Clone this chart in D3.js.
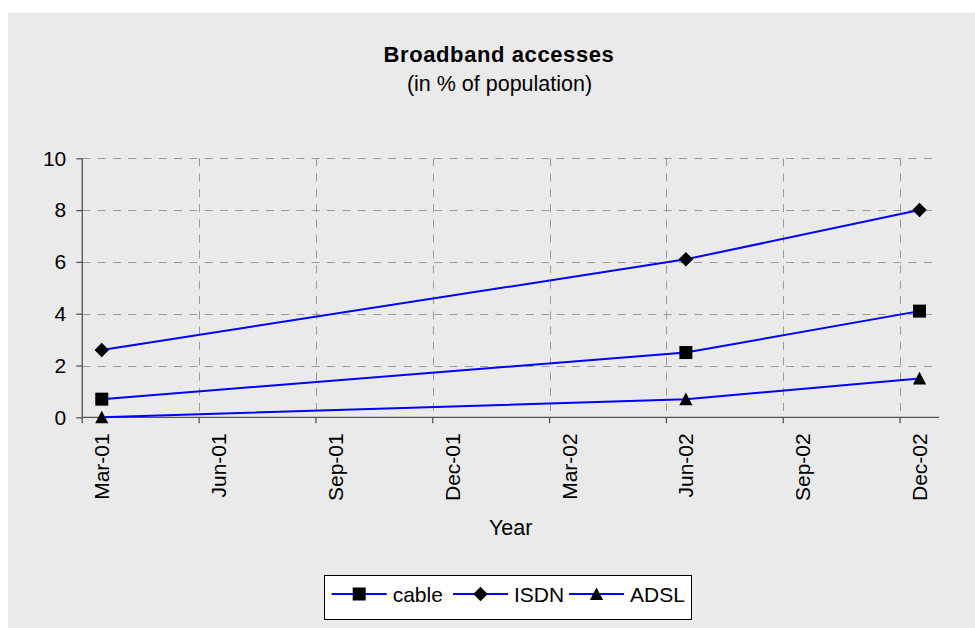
<!DOCTYPE html>
<html>
<head>
<meta charset="utf-8">
<script src="https://cdn.jsdelivr.net/npm/d3@7"></script>
<style>
  html, body { margin: 0; padding: 0; background: #ffffff; }
  svg { display: block; }
  text { font-family: "Liberation Sans", Arial, sans-serif; fill: #000; }
</style>
</head>
<body>
<svg id="chart" width="975" height="628"></svg>
<script>
// ---- data ----
const title = "Broadband accesses";
const subtitle = "(in % of population)";
const xTitle = "Year";
const dates = ["Mar-01", "Jun-02", "Dec-02"];
const cable = [0.7, 2.5, 4.1];
const isdn = [2.6, 6.1, 8.0];
const adsl = [0.0, 0.7, 1.5];
const seriesNames = ["cable", "ISDN", "ADSL"];
const xTickLabels = ["Mar-01", "Jun-01", "Sep-01", "Dec-01", "Mar-02", "Jun-02", "Sep-02", "Dec-02"];
const yTicks = [0, 2, 4, 6, 8, 10];

// ---- layout ----
const W = 975, H = 628;
const plot = { left: 82.3, right: 939, top: 158.3, bottom: 417.3 };
const svg = d3.select("#chart");
const fmt = d3.timeFormat("%b-%y");
const monthDates = d3.timeMonth.range(new Date(2001, 2, 1), new Date(2003, 0, 1));
const months = monthDates.map(fmt);

const x = d3.scaleBand().domain(months).range([plot.left, plot.right]).padding(0);
const y = d3.scaleLinear().domain([0, 10]).range([plot.bottom, plot.top]);
const xc = d => x(d) + x.bandwidth() / 2;

// background
svg.append("rect").attr("x", 8).attr("y", 13).attr("width", W - 8).attr("height", H - 13)
  .attr("fill", "#eaeaea");

// title
svg.append("text").attr("x", 499).attr("y", 62).attr("text-anchor", "middle")
  .attr("font-size", 22).attr("font-weight", "bold").attr("letter-spacing", 0.6).text(title);
svg.append("text").attr("x", 499.5).attr("y", 91).attr("text-anchor", "middle")
  .attr("font-size", 21.5).text(subtitle);

// gridlines
const grid = svg.append("g").attr("stroke", "#9a9a9a").attr("stroke-width", 1)
  .attr("stroke-dasharray", "8,7.3").attr("fill", "none");
yTicks.filter(v => v > 0).forEach(v => {
  grid.append("line").attr("x1", plot.left).attr("x2", plot.right)
    .attr("y1", Math.round(y(v)) + 0.5).attr("y2", Math.round(y(v)) + 0.5);
});
xTickLabels.slice(1).forEach(m => {
  const px = Math.round(x(m)) + 0.5;
  grid.append("line").attr("x1", px).attr("x2", px).attr("y1", plot.top).attr("y2", plot.bottom);
});

// y axis
const yAxis = d3.axisLeft(y).tickValues(yTicks).tickSize(6).tickPadding(10);
const gy = svg.append("g").attr("transform", `translate(${plot.left},0)`).call(yAxis);
gy.select(".domain").attr("stroke", "#555").attr("stroke-width", 1.3)
  .attr("d", `M0,${plot.top}V${plot.bottom}`);
gy.selectAll(".tick line").attr("stroke", "#555").attr("stroke-width", 1.3);
gy.selectAll(".tick text").attr("font-size", 21).attr("font-family", "Liberation Sans, Arial, sans-serif")
  .attr("fill", "#000");

// x axis
const xAxis = d3.axisBottom(x).tickValues(xTickLabels).tickSize(0).tickPadding(0);
const gx = svg.append("g").attr("transform", `translate(0,${plot.bottom})`).call(xAxis);
gx.select(".domain").attr("stroke", "#555").attr("stroke-width", 1.3)
  .attr("d", `M${plot.left},0H${plot.right}`);
gx.selectAll(".tick line").remove();
gx.selectAll(".tick text")
  .attr("font-size", 21).attr("font-family", "Liberation Sans, Arial, sans-serif").attr("fill", "#000")
  .attr("text-anchor", "end").attr("transform", "rotate(-90)")
  .attr("x", -16).attr("y", 0).attr("dy", "0.36em");
// tick marks at quarter boundaries
xTickLabels.forEach(m => {
  const px = x(m);
  gx.append("line").attr("x1", px).attr("x2", px).attr("y1", 0).attr("y2", 6)
    .attr("stroke", "#555").attr("stroke-width", 1.3);
});

svg.append("text").attr("x", (plot.left + plot.right) / 2).attr("y", 535).attr("text-anchor", "middle")
  .attr("font-size", 21.5).text(xTitle);

// symbols
const squareType = { draw(ctx, size) { const s = Math.sqrt(size) / 2; ctx.rect(-s, -s, 2 * s, 2 * s); } };
const diamondType = { draw(ctx, size) { const s = Math.sqrt(size) / 2; ctx.moveTo(0, -s); ctx.lineTo(s, 0); ctx.lineTo(0, s); ctx.lineTo(-s, 0); ctx.closePath(); } };
const triangleType = { draw(ctx, size) { const s = Math.sqrt(size) / 2; ctx.moveTo(0, -s); ctx.lineTo(s, s * 0.92); ctx.lineTo(-s, s * 0.92); ctx.closePath(); } };
const symbolTypes = [squareType, diamondType, triangleType];
const symbolSizes = [13 * 13, 14.5 * 14.5, 13.2 * 13.2];
const seriesValues = [cable, isdn, adsl];

const line = d3.line().x(d => xc(d.date)).y(d => y(d.value));
seriesValues.forEach((vals, i) => {
  const pts = dates.map((d, j) => ({ date: d, value: vals[j] }));
  svg.append("path").datum(pts).attr("d", line)
    .attr("fill", "none").attr("stroke", "#0000ff").attr("stroke-width", 2);
  svg.selectAll(null).data(pts).enter().append("path")
    .attr("transform", d => `translate(${xc(d.date)},${y(d.value)})`)
    .attr("d", d3.symbol().type(symbolTypes[i]).size(symbolSizes[i]))
    .attr("fill", "#000");
});

// legend
const lg = svg.append("g");
lg.append("rect").attr("x", 324.5).attr("y", 575.5).attr("width", 367).attr("height", 44)
  .attr("fill", "#fff").attr("stroke", "#000").attr("stroke-width", 1);
const legendX = [331.7, 453, 569];
seriesNames.forEach((name, i) => {
  const lx = legendX[i];
  lg.append("line").attr("x1", lx).attr("x2", lx + 55).attr("y1", 594).attr("y2", 594)
    .attr("stroke", "#0000ff").attr("stroke-width", 2);
  lg.append("path").attr("transform", `translate(${lx + 27.5},594)`)
    .attr("d", d3.symbol().type(symbolTypes[i]).size(symbolSizes[i]))
    .attr("fill", "#000");
  lg.append("text").attr("x", lx + 61).attr("y", 594).attr("dy", "0.36em")
    .attr("font-size", 21).text(name);
});
</script>
</body>
</html>
